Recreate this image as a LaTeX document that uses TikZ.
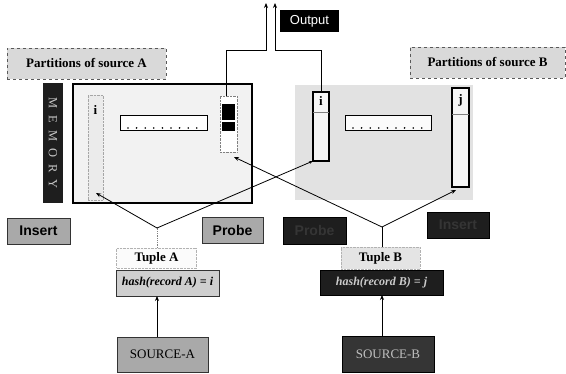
\documentclass[tikz,border=0pt]{standalone}
\usepackage{fontspec}
\setmainfont{Liberation Serif}
\newfontfamily\sansf{Liberation Sans}
\usetikzlibrary{arrows.meta}
\definecolor{lightfill}{HTML}{D9D9D9}
\definecolor{paleA}{HTML}{F2F2F2}
\definecolor{paleB}{HTML}{E2E2E2}
\definecolor{midfill}{HTML}{A9A9A9}
\definecolor{darkfill}{HTML}{1E1E1E}
\definecolor{darktext}{HTML}{353535}
\begin{document}
\begin{tikzpicture}[x=1pt,y=-1pt,
  every node/.style={inner sep=0pt, outer sep=0pt},
  lbl/.style={draw=gray!70!black, dashed, fill=lightfill, font=\bfseries\fontsize{13}{14}\selectfont},
  grayb/.style={draw=gray!40!black, fill=midfill},
  darkb/.style={draw=black, fill=darkfill},
  thickb/.style={draw=black, line width=2.4pt},
  opfont/.style={font=\sansf\bfseries\fontsize{14}{14}\selectfont},
  arr/.style={-{Stealth[length=5pt,width=4pt]}, line width=0.8pt},
  ln/.style={line width=0.8pt},
]
\useasboundingbox (0,0) rectangle (566,374);

% Output
\node[fill=black, text=white, minimum width=59pt, minimum height=22pt, font=\sansf\fontsize{13}{13}\selectfont] (out) at (309.5,21) {Output};

% partition labels
\node[lbl, minimum width=159pt, minimum height=31pt] (partA) at (86.5,63.5) {Partitions of source A};
\node[lbl, minimum width=155pt, minimum height=31pt] (partB) at (487.5,62.5) {Partitions of source B};

% memory
\node[fill=darkfill, minimum width=20pt, minimum height=120pt] (mem) at (53,143) {};
\node[rotate=-90, text=gray!45, font=\fontsize{12.5}{13}\selectfont] at (mem.center) {M\hspace{7pt}E\hspace{7pt}M\hspace{7pt}O\hspace{7pt}R\hspace{7pt}Y};

% box B region
\node[fill=paleB, minimum width=178pt, minimum height=115pt] (boxB) at (384,142.5) {};
% box A
\node[thickb, fill=paleA, minimum width=179pt, minimum height=119pt] (boxA) at (162.5,143.5) {};
\node[draw=gray!70, densely dotted, fill=paleB!70!white, minimum width=15pt, minimum height=105pt] (colLA) at (95.5,147.5) {};
\node[font=\bfseries\fontsize{13}{13}\selectfont] at (95.5,110) {i};
\node[draw=black, line width=0.6pt, fill=white, minimum width=87pt, minimum height=15pt] (recA) at (163.5,122.5) {};
\foreach \k in {0,...,8} \fill (128+\k*8.6,128) circle (0.9pt);
\node[draw=gray, densely dotted, fill=white, minimum width=17pt, minimum height=56pt] (colA) at (228.5,124) {};
\node[fill=black, minimum width=13pt, minimum height=16pt] (sq1) at (228.5,112) {};
\node[fill=black, minimum width=13pt, minimum height=9pt] (sq2) at (228.5,126.5) {};

% box B contents
\node[draw=black, line width=0.6pt, fill=white!85!paleB, minimum width=86pt, minimum height=15pt] (recB) at (388,122.5) {};
\foreach \k in {0,...,8} \fill (353+\k*8.6,128) circle (0.9pt);
\node[thickb, fill=white!70!paleB, minimum width=16pt, minimum height=69pt] (iB) at (321,126.5) {};
\draw[gray, line width=0.5pt] (iB.west |- 0,112) -- (iB.east |- 0,112);
\node[font=\bfseries\fontsize{13}{13}\selectfont] at (321,101) {i};
\node[thickb, fill=white!70!paleB, minimum width=17pt, minimum height=99pt] (jB) at (460.5,137.5) {};
\draw[gray, line width=0.5pt] (jB.west |- 0,114) -- (jB.east |- 0,114);
\node[font=\bfseries\fontsize{13}{13}\selectfont] at (460.5,100) {j};

% operation boxes
\node[grayb, opfont, minimum width=63pt, minimum height=26pt] (insA) at (38.5,231) {Insert};
\node[grayb, opfont, minimum width=61pt, minimum height=26pt] (probA) at (232.5,230) {Probe};
\node[darkb, opfont, text=darktext, minimum width=63pt, minimum height=27pt] (probB) at (314.5,230.5) {Probe};
\node[darkb, opfont, text=darktext, minimum width=62pt, minimum height=26pt] (insB) at (458,225) {Insert};

% tuples
\node[draw=gray!60, densely dotted, fill=white!90!lightfill, minimum width=80pt, minimum height=20pt, font=\bfseries\fontsize{13}{13}\selectfont] (tupA) at (156.5,258) {Tuple A};
\node[grayb, fill=lightfill!80!midfill, minimum width=103pt, minimum height=26pt, font=\bfseries\itshape\fontsize{12}{12}\selectfont] (hashA) at (167.5,283) {hash(record A) = i};
\node[grayb, minimum width=91pt, minimum height=35pt, font=\fontsize{13}{13}\selectfont] (srcA) at (162.5,354.5) {SOURCE-A};

\node[draw=gray!60, densely dotted, fill=lightfill!70!white, minimum width=79pt, minimum height=22pt, font=\bfseries\fontsize{13}{13}\selectfont] (tupB) at (380.5,258) {Tuple B};
\node[darkb, text=gray!40, minimum width=123pt, minimum height=25pt, font=\bfseries\itshape\fontsize{12}{12}\selectfont] (hashB) at (381.5,282.5) {hash(record B) = j};
\node[darkb, fill=darkfill!90!white, text=gray!50, minimum width=92pt, minimum height=36pt, font=\fontsize{13}{13}\selectfont] (srcB) at (388,354) {SOURCE-B};

% junctions
\coordinate (jA) at (157,228);
\coordinate (jB) at (382,227);
\coordinate (tA) at (96,193);
\coordinate (tColA) at (234,157);
\coordinate (tjB) at (456,190);
\coordinate (upL) at (266,3);
\coordinate (upR) at (275,3);

% source to hash
\draw[arr] (srcA.north -| jA) -- (hashA.south -| jA);
\draw[arr] (srcB.north -| jB) -- (hashB.south -| jB);
% tuple to junction
\draw[gray, densely dotted, line width=0.8pt] (tupA.north -| jA) -- (jA);
\draw[ln] (tupB.north -| jB) -- (jB);
% junction A
\draw[arr] (jA) -- (tA);
\draw[-{Stealth[length=4pt,width=3pt]}, line width=0.8pt] (jA) -- (iB.south west);
% junction B
\draw[arr] (jB) -- (tColA);
\draw[arr] (jB) -- (tjB);
% output
\draw[arr, line width=1pt] (colA.north -| 226,0) |- (266,51) -- (upL);
\draw[arr, line width=1pt] (iB.north) |- (275,51) -- (upR);
\end{tikzpicture}
\end{document}
